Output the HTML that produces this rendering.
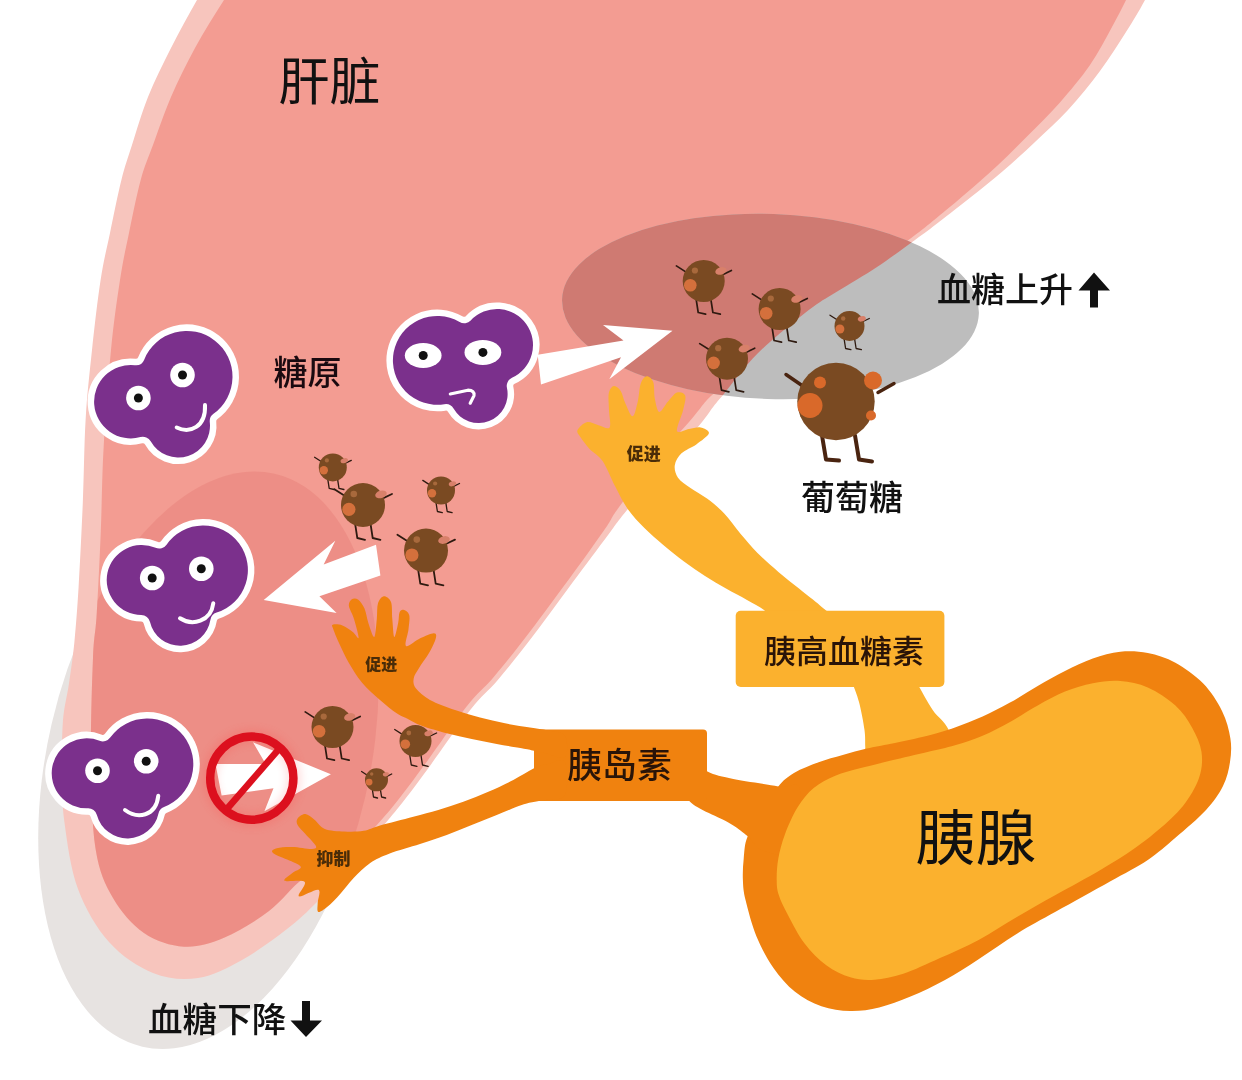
<!DOCTYPE html>
<html lang="zh-CN"><head><meta charset="utf-8"><title>肝脏 胰腺 血糖调节</title>
<style>
html,body{margin:0;padding:0;background:#fff;}
body{width:1242px;height:1080px;overflow:hidden;font-family:"Liberation Sans","Noto Sans CJK SC",sans-serif;}
svg{display:block;will-change:transform;}
svg text{font-family:"Liberation Sans","Noto Sans CJK SC",sans-serif;}
</style></head><body>
<svg width="1242" height="1080" viewBox="0 0 1242 1080">
<defs><clipPath id="lc"><path d="M222.0,-40.0C217.8,-33.3 205.5,-14.7 197.0,0.0C188.5,14.7 179.2,31.8 171.0,48.0C162.8,64.2 154.5,80.8 148.0,97.0C141.5,113.2 136.4,131.2 132.0,145.0C127.6,158.8 125.1,165.3 121.4,180.0C117.7,194.7 113.5,216.3 110.0,233.0C106.5,249.7 103.6,260.5 100.6,280.0C97.6,299.5 94.5,326.7 92.0,350.0C89.5,373.3 87.1,394.5 85.6,420.0C84.1,445.5 84.0,475.2 82.8,503.0C81.6,530.8 80.0,563.8 78.6,587.0C77.2,610.2 76.0,625.8 74.4,642.0C72.8,658.2 70.8,671.0 68.9,684.0C67.0,697.0 64.2,705.7 63.0,720.0C61.9,734.3 61.8,753.0 62.0,770.0C62.2,787.0 61.7,802.2 64.4,822.0C67.1,841.8 70.6,869.0 78.0,889.0C85.4,909.0 96.5,928.0 109.0,942.0C121.5,956.0 138.2,967.0 153.0,973.0C167.8,979.0 183.2,980.2 198.0,978.0C212.8,975.8 227.2,968.2 242.0,960.0C256.8,951.8 274.5,938.7 287.0,929.0C299.5,919.3 306.5,912.7 317.0,902.0C327.5,891.3 338.8,877.9 350.0,865.0C361.2,852.1 375.3,835.2 384.4,824.4C393.5,813.6 396.6,810.0 404.4,800.0C412.2,790.0 419.9,779.6 431.0,764.4C442.1,749.2 459.9,723.1 471.0,709.0C482.1,694.9 487.4,692.2 497.8,680.0C508.2,667.8 520.0,653.0 533.3,635.6C546.6,618.2 564.8,593.0 577.8,575.6C590.8,558.2 603.2,541.4 611.0,531.0C618.8,520.6 615.9,523.8 624.4,513.3C632.9,502.8 649.4,482.8 662.0,468.0C674.6,453.2 691.5,434.6 700.0,424.4C708.5,414.2 709.2,411.9 713.3,406.7C717.4,401.5 719.9,398.9 724.4,393.3C728.9,387.7 734.4,380.0 740.0,373.3C745.6,366.6 751.1,360.0 757.8,353.3C764.5,346.6 770.8,341.1 780.0,333.3C789.2,325.5 803.6,313.8 813.3,306.7C823.0,299.6 827.4,297.6 838.0,291.0C848.6,284.4 864.2,275.5 877.0,267.0C889.8,258.5 904.7,247.5 915.0,240.0C925.3,232.5 929.7,229.2 939.0,222.0C948.3,214.8 960.3,205.5 971.0,197.0C981.7,188.5 992.3,180.2 1003.0,171.0C1013.7,161.8 1024.2,152.2 1035.0,142.0C1045.8,131.8 1057.2,121.8 1068.0,110.0C1078.8,98.2 1090.3,84.0 1100.0,71.0C1109.7,58.0 1118.5,43.8 1126.0,32.0C1133.5,20.2 1138.5,12.0 1145.0,0.0C1151.5,-12.0 1161.7,-33.3 1165.0,-40.0Z"/></clipPath><clipPath id="lci"><path d="M252.0,-40.0C247.3,-33.3 233.5,-14.7 224.0,0.0C214.5,14.7 203.8,31.8 195.0,48.0C186.2,64.2 178.0,80.8 171.0,97.0C164.0,113.2 158.1,131.2 153.0,145.0C147.9,158.8 144.7,165.3 140.7,180.0C136.7,194.7 132.4,216.3 129.0,233.0C125.5,249.7 123.0,260.5 120.0,280.0C117.0,299.5 113.7,322.0 111.0,350.0C108.3,378.0 105.3,417.8 103.6,448.0C101.9,478.2 101.9,503.3 100.8,531.0C99.7,558.7 98.0,592.8 96.7,614.0C95.4,635.2 94.0,633.7 93.0,658.0C92.0,682.3 90.6,728.2 91.0,760.0C91.4,791.8 91.9,826.0 95.6,849.0C99.3,872.0 104.9,884.0 113.0,898.0C121.1,912.0 132.2,924.9 144.0,933.0C155.8,941.1 170.7,945.9 184.0,946.7C197.3,947.5 209.8,943.8 224.0,937.8C238.2,931.8 255.7,921.0 269.0,911.0C282.3,901.0 291.7,886.5 304.0,878.0C316.3,869.5 330.3,869.4 343.0,860.0C355.7,850.6 370.4,831.9 380.0,821.4C389.6,810.9 392.6,807.0 400.4,797.0C408.2,787.0 415.9,776.6 427.0,761.4C438.1,746.2 455.9,720.1 467.0,706.0C478.1,691.9 483.4,689.2 493.8,677.0C504.2,664.8 516.0,650.0 529.3,632.6C542.6,615.2 561.0,590.1 573.8,572.6C586.6,555.1 598.6,538.2 606.0,527.5C613.4,516.8 610.0,519.4 618.0,508.5C626.0,497.6 641.7,477.0 654.0,462.0C666.3,447.0 683.3,428.6 692.0,418.4C700.7,408.2 701.8,405.7 706.3,400.7C710.8,395.7 714.0,393.6 719.0,388.5C724.0,383.4 730.0,376.1 736.0,369.8C742.0,363.5 748.0,357.0 755.0,350.5C762.0,344.0 768.6,338.7 778.0,331.0C787.4,323.3 801.8,311.4 811.5,304.3C821.2,297.2 825.4,295.1 836.0,288.5C846.6,281.9 862.2,273.1 875.0,264.5C887.8,255.9 902.3,244.7 912.5,237.0C922.7,229.3 926.9,225.9 936.0,218.5C945.1,211.1 956.8,201.3 967.0,192.5C977.2,183.7 987.3,175.0 997.5,165.5C1007.7,156.0 1017.7,145.9 1028.0,135.5C1038.3,125.1 1049.2,114.8 1059.5,103.0C1069.8,91.2 1081.2,77.7 1090.0,65.0C1098.8,52.3 1105.7,38.5 1112.0,27.0C1118.3,15.5 1122.5,7.2 1128.0,-4.0C1133.5,-15.2 1142.2,-34.0 1145.0,-40.0Z"/></clipPath><filter id="gl" x="-30%" y="-30%" width="160%" height="160%"><feGaussianBlur stdDeviation="4"/></filter></defs>
<ellipse cx="208.5" cy="760" rx="161" ry="294" transform="rotate(13 207.5 760)" fill="#e7e3e1"/>
<path d="M222.0,-40.0C217.8,-33.3 205.5,-14.7 197.0,0.0C188.5,14.7 179.2,31.8 171.0,48.0C162.8,64.2 154.5,80.8 148.0,97.0C141.5,113.2 136.4,131.2 132.0,145.0C127.6,158.8 125.1,165.3 121.4,180.0C117.7,194.7 113.5,216.3 110.0,233.0C106.5,249.7 103.6,260.5 100.6,280.0C97.6,299.5 94.5,326.7 92.0,350.0C89.5,373.3 87.1,394.5 85.6,420.0C84.1,445.5 84.0,475.2 82.8,503.0C81.6,530.8 80.0,563.8 78.6,587.0C77.2,610.2 76.0,625.8 74.4,642.0C72.8,658.2 70.8,671.0 68.9,684.0C67.0,697.0 64.2,705.7 63.0,720.0C61.9,734.3 61.8,753.0 62.0,770.0C62.2,787.0 61.7,802.2 64.4,822.0C67.1,841.8 70.6,869.0 78.0,889.0C85.4,909.0 96.5,928.0 109.0,942.0C121.5,956.0 138.2,967.0 153.0,973.0C167.8,979.0 183.2,980.2 198.0,978.0C212.8,975.8 227.2,968.2 242.0,960.0C256.8,951.8 274.5,938.7 287.0,929.0C299.5,919.3 306.5,912.7 317.0,902.0C327.5,891.3 338.8,877.9 350.0,865.0C361.2,852.1 375.3,835.2 384.4,824.4C393.5,813.6 396.6,810.0 404.4,800.0C412.2,790.0 419.9,779.6 431.0,764.4C442.1,749.2 459.9,723.1 471.0,709.0C482.1,694.9 487.4,692.2 497.8,680.0C508.2,667.8 520.0,653.0 533.3,635.6C546.6,618.2 564.8,593.0 577.8,575.6C590.8,558.2 603.2,541.4 611.0,531.0C618.8,520.6 615.9,523.8 624.4,513.3C632.9,502.8 649.4,482.8 662.0,468.0C674.6,453.2 691.5,434.6 700.0,424.4C708.5,414.2 709.2,411.9 713.3,406.7C717.4,401.5 719.9,398.9 724.4,393.3C728.9,387.7 734.4,380.0 740.0,373.3C745.6,366.6 751.1,360.0 757.8,353.3C764.5,346.6 770.8,341.1 780.0,333.3C789.2,325.5 803.6,313.8 813.3,306.7C823.0,299.6 827.4,297.6 838.0,291.0C848.6,284.4 864.2,275.5 877.0,267.0C889.8,258.5 904.7,247.5 915.0,240.0C925.3,232.5 929.7,229.2 939.0,222.0C948.3,214.8 960.3,205.5 971.0,197.0C981.7,188.5 992.3,180.2 1003.0,171.0C1013.7,161.8 1024.2,152.2 1035.0,142.0C1045.8,131.8 1057.2,121.8 1068.0,110.0C1078.8,98.2 1090.3,84.0 1100.0,71.0C1109.7,58.0 1118.5,43.8 1126.0,32.0C1133.5,20.2 1138.5,12.0 1145.0,0.0C1151.5,-12.0 1161.7,-33.3 1165.0,-40.0Z" fill="#f7c5bd"/>
<path d="M252.0,-40.0C247.3,-33.3 233.5,-14.7 224.0,0.0C214.5,14.7 203.8,31.8 195.0,48.0C186.2,64.2 178.0,80.8 171.0,97.0C164.0,113.2 158.1,131.2 153.0,145.0C147.9,158.8 144.7,165.3 140.7,180.0C136.7,194.7 132.4,216.3 129.0,233.0C125.5,249.7 123.0,260.5 120.0,280.0C117.0,299.5 113.7,322.0 111.0,350.0C108.3,378.0 105.3,417.8 103.6,448.0C101.9,478.2 101.9,503.3 100.8,531.0C99.7,558.7 98.0,592.8 96.7,614.0C95.4,635.2 94.0,633.7 93.0,658.0C92.0,682.3 90.6,728.2 91.0,760.0C91.4,791.8 91.9,826.0 95.6,849.0C99.3,872.0 104.9,884.0 113.0,898.0C121.1,912.0 132.2,924.9 144.0,933.0C155.8,941.1 170.7,945.9 184.0,946.7C197.3,947.5 209.8,943.8 224.0,937.8C238.2,931.8 255.7,921.0 269.0,911.0C282.3,901.0 291.7,886.5 304.0,878.0C316.3,869.5 330.3,869.4 343.0,860.0C355.7,850.6 370.4,831.9 380.0,821.4C389.6,810.9 392.6,807.0 400.4,797.0C408.2,787.0 415.9,776.6 427.0,761.4C438.1,746.2 455.9,720.1 467.0,706.0C478.1,691.9 483.4,689.2 493.8,677.0C504.2,664.8 516.0,650.0 529.3,632.6C542.6,615.2 561.0,590.1 573.8,572.6C586.6,555.1 598.6,538.2 606.0,527.5C613.4,516.8 610.0,519.4 618.0,508.5C626.0,497.6 641.7,477.0 654.0,462.0C666.3,447.0 683.3,428.6 692.0,418.4C700.7,408.2 701.8,405.7 706.3,400.7C710.8,395.7 714.0,393.6 719.0,388.5C724.0,383.4 730.0,376.1 736.0,369.8C742.0,363.5 748.0,357.0 755.0,350.5C762.0,344.0 768.6,338.7 778.0,331.0C787.4,323.3 801.8,311.4 811.5,304.3C821.2,297.2 825.4,295.1 836.0,288.5C846.6,281.9 862.2,273.1 875.0,264.5C887.8,255.9 902.3,244.7 912.5,237.0C922.7,229.3 926.9,225.9 936.0,218.5C945.1,211.1 956.8,201.3 967.0,192.5C977.2,183.7 987.3,175.0 997.5,165.5C1007.7,156.0 1017.7,145.9 1028.0,135.5C1038.3,125.1 1049.2,114.8 1059.5,103.0C1069.8,91.2 1081.2,77.7 1090.0,65.0C1098.8,52.3 1105.7,38.5 1112.0,27.0C1118.3,15.5 1122.5,7.2 1128.0,-4.0C1133.5,-15.2 1142.2,-34.0 1145.0,-40.0Z" fill="#f39c92"/>
<g clip-path="url(#lci)"><ellipse cx="208.5" cy="760" rx="161" ry="294" transform="rotate(13 207.5 760)" fill="#d9605a" opacity=".22"/></g>
<ellipse cx="770.5" cy="306.5" rx="208.5" ry="92.5" transform="rotate(2 770 306)" fill="#bdbdbd"/>
<g clip-path="url(#lc)"><ellipse cx="770.5" cy="306.5" rx="208.5" ry="92.5" transform="rotate(2 770 306)" fill="#cf7a72"/></g>
<g><path d="M144.20,359.63A45.80,45.80 0 1 1 213.47,413.86A9.00,9.00 0 0 0 209.79,422.19A31.70,31.70 0 0 1 150.68,441.37A9.00,9.00 0 0 0 140.47,437.10A36.70,36.70 0 1 1 134.85,365.22A9.00,9.00 0 0 0 144.20,359.63Z" fill="#7b308c" stroke="#fff" stroke-width="13.0" stroke-linejoin="round" paint-order="stroke"/><ellipse cx="182.5" cy="375.0" rx="12.3" ry="12.3" fill="#fff"/><circle cx="182.5" cy="375.0" r="4.5" fill="#111"/><ellipse cx="138.4" cy="398.0" rx="12.3" ry="12.3" fill="#fff"/><circle cx="138.4" cy="398.0" r="4.5" fill="#111"/><path d="M176.7,427.5 C190,434 206,427 205,405" fill="none" stroke="#fff" stroke-width="4.0" stroke-linecap="round" stroke-linejoin="round"/></g>
<g><path d="M444.34,404.24A44.40,44.40 0 1 1 459.63,322.02A9.00,9.00 0 0 0 470.72,320.39A36.00,36.00 0 1 1 511.98,377.73A9.00,9.00 0 0 0 506.94,387.83A29.00,29.00 0 0 1 453.54,408.60A9.00,9.00 0 0 0 444.34,404.24Z" fill="#7b308c" stroke="#fff" stroke-width="13.0" stroke-linejoin="round" paint-order="stroke"/><ellipse cx="423.2" cy="355.5" rx="18.4" ry="12.5" fill="#fff"/><circle cx="423.2" cy="355.5" r="4.5" fill="#111"/><ellipse cx="482.9" cy="352.4" rx="18.4" ry="12.5" fill="#fff"/><circle cx="482.9" cy="352.4" r="4.5" fill="#111"/><path d="M450.3,394 L467.9,390.2 Q475,390.5 474,395.6 L470.2,403.2" fill="none" stroke="#fff" stroke-width="3.2" stroke-linecap="round" stroke-linejoin="round"/></g>
<path d="M537.7,354.7 L623.5,340.5 L603,325 L672.5,330.8 L609.3,379.2 L621,357.3 L541,384.4Z" fill="#fff"/>
<path d="M376,544.7 L323.7,564.5 L335.3,540.8 L263.7,600 L336.6,613 L319.4,596.2 L380.4,575.6Z" fill="#fff"/>
<g><path d="M141.33,615.00A35.00,35.00 0 1 1 155.58,547.87A9.00,9.00 0 0 0 166.56,544.71A44.60,44.60 0 1 1 216.63,612.56A9.00,9.00 0 0 0 210.43,619.76A30.80,30.80 0 0 1 150.00,621.96A9.00,9.00 0 0 0 141.33,615.00Z" fill="#7b308c" stroke="#fff" stroke-width="13.0" stroke-linejoin="round" paint-order="stroke"/><ellipse cx="201.3" cy="568.7" rx="12.3" ry="12.3" fill="#fff"/><circle cx="201.3" cy="568.7" r="4.5" fill="#111"/><ellipse cx="152.2" cy="578.0" rx="12.3" ry="12.3" fill="#fff"/><circle cx="152.2" cy="578.0" r="4.5" fill="#111"/><path d="M180,618.3 C192,626 211,622 213.3,603.3" fill="none" stroke="#fff" stroke-width="4.0" stroke-linecap="round" stroke-linejoin="round"/></g>
<g><path d="M87.89,808.28A35.00,35.00 0 1 1 99.57,740.75A9.00,9.00 0 0 0 110.21,737.61A45.80,45.80 0 1 1 164.03,806.91A9.00,9.00 0 0 0 158.48,813.40A31.70,31.70 0 0 1 96.89,814.94A9.00,9.00 0 0 0 87.89,808.28Z" fill="#7b308c" stroke="#fff" stroke-width="13.0" stroke-linejoin="round" paint-order="stroke"/><ellipse cx="146.2" cy="761.2" rx="12.3" ry="12.3" fill="#fff"/><circle cx="146.2" cy="761.2" r="4.5" fill="#111"/><ellipse cx="97.5" cy="770.8" rx="12.3" ry="12.3" fill="#fff"/><circle cx="97.5" cy="770.8" r="4.5" fill="#111"/><path d="M125,810 C137,819 156,817 158.3,795.8" fill="none" stroke="#fff" stroke-width="4.0" stroke-linecap="round" stroke-linejoin="round"/></g>
<g><path d="M696.1,298.9 L698.2,312.5 L705.6,314.2" fill="none" stroke="#2e1a10" stroke-width="1.7" stroke-linecap="round" stroke-linejoin="round"/><path d="M710.8,298.9 L712.9,312.5 L720.3,314.2" fill="none" stroke="#2e1a10" stroke-width="1.7" stroke-linecap="round" stroke-linejoin="round"/><path d="M686.9,272.6 L676.4,265.9" stroke="#2e1a10" stroke-width="1.7" stroke-linecap="round"/><path d="M722.6,274.7 L731.4,270.5" stroke="#2e1a10" stroke-width="1.7" stroke-linecap="round"/><circle cx="703.7" cy="281.0" r="21.0" fill="#7a4a22"/><circle cx="690.3" cy="285.2" r="6.3" fill="#d4703c"/><circle cx="694.9" cy="270.5" r="3.1" fill="#a8693c"/><ellipse cx="720.9" cy="270.9" rx="5.7" ry="3.6" fill="#d8806a" transform="rotate(-15 720.9 270.9)"/></g>
<g><path d="M772.0,326.9 L774.1,340.5 L781.5,342.2" fill="none" stroke="#2e1a10" stroke-width="1.7" stroke-linecap="round" stroke-linejoin="round"/><path d="M786.7,326.9 L788.8,340.5 L796.2,342.2" fill="none" stroke="#2e1a10" stroke-width="1.7" stroke-linecap="round" stroke-linejoin="round"/><path d="M762.8,300.6 L752.3,293.9" stroke="#2e1a10" stroke-width="1.7" stroke-linecap="round"/><path d="M798.5,302.7 L807.3,298.5" stroke="#2e1a10" stroke-width="1.7" stroke-linecap="round"/><circle cx="779.6" cy="309.0" r="21.0" fill="#7a4a22"/><circle cx="766.2" cy="313.2" r="6.3" fill="#d4703c"/><circle cx="770.8" cy="298.5" r="3.1" fill="#a8693c"/><ellipse cx="796.8" cy="298.9" rx="5.7" ry="3.6" fill="#d8806a" transform="rotate(-15 796.8 298.9)"/></g>
<g><path d="M844.1,338.8 L845.6,348.5 L850.9,349.7" fill="none" stroke="#2e1a10" stroke-width="1.3" stroke-linecap="round" stroke-linejoin="round"/><path d="M854.6,338.8 L856.1,348.5 L861.4,349.7" fill="none" stroke="#2e1a10" stroke-width="1.3" stroke-linecap="round" stroke-linejoin="round"/><path d="M837.5,320.0 L830.0,315.2" stroke="#2e1a10" stroke-width="1.3" stroke-linecap="round"/><path d="M863.0,321.5 L869.3,318.5" stroke="#2e1a10" stroke-width="1.3" stroke-linecap="round"/><circle cx="849.5" cy="326.0" r="15.0" fill="#7a4a22"/><circle cx="839.9" cy="329.0" r="4.5" fill="#d4703c"/><circle cx="843.2" cy="318.5" r="2.2" fill="#a8693c"/><ellipse cx="861.8" cy="318.8" rx="4.1" ry="2.6" fill="#d8806a" transform="rotate(-15 861.8 318.8)"/></g>
<g><path d="M719.4,376.6 L721.5,390.2 L728.9,391.9" fill="none" stroke="#2e1a10" stroke-width="1.7" stroke-linecap="round" stroke-linejoin="round"/><path d="M734.1,376.6 L736.2,390.2 L743.6,391.9" fill="none" stroke="#2e1a10" stroke-width="1.7" stroke-linecap="round" stroke-linejoin="round"/><path d="M710.2,350.3 L699.7,343.6" stroke="#2e1a10" stroke-width="1.7" stroke-linecap="round"/><path d="M745.9,352.4 L754.7,348.2" stroke="#2e1a10" stroke-width="1.7" stroke-linecap="round"/><circle cx="727.0" cy="358.7" r="21.0" fill="#7a4a22"/><circle cx="713.6" cy="362.9" r="6.3" fill="#d4703c"/><circle cx="718.2" cy="348.2" r="3.1" fill="#a8693c"/><ellipse cx="744.2" cy="348.6" rx="5.7" ry="3.6" fill="#d8806a" transform="rotate(-15 744.2 348.6)"/></g>
<g><path d="M327.8,479.3 L329.2,488.4 L334.1,489.5" fill="none" stroke="#2e1a10" stroke-width="1.3" stroke-linecap="round" stroke-linejoin="round"/><path d="M337.6,479.3 L339.0,488.4 L343.9,489.5" fill="none" stroke="#2e1a10" stroke-width="1.3" stroke-linecap="round" stroke-linejoin="round"/><path d="M321.6,461.8 L314.6,457.3" stroke="#2e1a10" stroke-width="1.3" stroke-linecap="round"/><path d="M345.4,463.2 L351.3,460.4" stroke="#2e1a10" stroke-width="1.3" stroke-linecap="round"/><circle cx="332.8" cy="467.4" r="14.0" fill="#7a4a22"/><circle cx="323.8" cy="470.2" r="4.2" fill="#d4703c"/><circle cx="326.9" cy="460.4" r="2.1" fill="#a8693c"/><ellipse cx="344.3" cy="460.7" rx="3.8" ry="2.4" fill="#d8806a" transform="rotate(-15 344.3 460.7)"/></g>
<g><path d="M355.1,523.7 L357.3,538.0 L365.0,539.8" fill="none" stroke="#2e1a10" stroke-width="1.8" stroke-linecap="round" stroke-linejoin="round"/><path d="M370.5,523.7 L372.7,538.0 L380.4,539.8" fill="none" stroke="#2e1a10" stroke-width="1.8" stroke-linecap="round" stroke-linejoin="round"/><path d="M345.4,496.2 L334.4,489.2" stroke="#2e1a10" stroke-width="1.8" stroke-linecap="round"/><path d="M382.8,498.4 L392.0,494.0" stroke="#2e1a10" stroke-width="1.8" stroke-linecap="round"/><circle cx="363.0" cy="505.0" r="22.0" fill="#7a4a22"/><circle cx="348.9" cy="509.4" r="6.6" fill="#d4703c"/><circle cx="353.8" cy="494.0" r="3.3" fill="#a8693c"/><ellipse cx="381.0" cy="494.4" rx="5.9" ry="3.7" fill="#d8806a" transform="rotate(-15 381.0 494.4)"/></g>
<g><path d="M436.0,502.4 L437.4,511.5 L442.3,512.6" fill="none" stroke="#2e1a10" stroke-width="1.3" stroke-linecap="round" stroke-linejoin="round"/><path d="M445.8,502.4 L447.2,511.5 L452.1,512.6" fill="none" stroke="#2e1a10" stroke-width="1.3" stroke-linecap="round" stroke-linejoin="round"/><path d="M429.8,484.9 L422.8,480.4" stroke="#2e1a10" stroke-width="1.3" stroke-linecap="round"/><path d="M453.6,486.3 L459.5,483.5" stroke="#2e1a10" stroke-width="1.3" stroke-linecap="round"/><circle cx="441.0" cy="490.5" r="14.0" fill="#7a4a22"/><circle cx="432.0" cy="493.3" r="4.2" fill="#d4703c"/><circle cx="435.1" cy="483.5" r="2.1" fill="#a8693c"/><ellipse cx="452.5" cy="483.8" rx="3.8" ry="2.4" fill="#d8806a" transform="rotate(-15 452.5 483.8)"/></g>
<g><path d="M418.1,569.3 L420.3,583.6 L428.0,585.4" fill="none" stroke="#2e1a10" stroke-width="1.8" stroke-linecap="round" stroke-linejoin="round"/><path d="M433.5,569.3 L435.7,583.6 L443.4,585.4" fill="none" stroke="#2e1a10" stroke-width="1.8" stroke-linecap="round" stroke-linejoin="round"/><path d="M408.4,541.8 L397.4,534.8" stroke="#2e1a10" stroke-width="1.8" stroke-linecap="round"/><path d="M445.8,544.0 L455.0,539.6" stroke="#2e1a10" stroke-width="1.8" stroke-linecap="round"/><circle cx="426.0" cy="550.6" r="22.0" fill="#7a4a22"/><circle cx="411.9" cy="555.0" r="6.6" fill="#d4703c"/><circle cx="416.8" cy="539.6" r="3.3" fill="#a8693c"/><ellipse cx="444.0" cy="540.0" rx="5.9" ry="3.7" fill="#d8806a" transform="rotate(-15 444.0 540.0)"/></g>
<g><path d="M324.9,744.9 L327.0,758.5 L334.4,760.2" fill="none" stroke="#2e1a10" stroke-width="1.7" stroke-linecap="round" stroke-linejoin="round"/><path d="M339.6,744.9 L341.7,758.5 L349.1,760.2" fill="none" stroke="#2e1a10" stroke-width="1.7" stroke-linecap="round" stroke-linejoin="round"/><path d="M315.7,718.6 L305.2,711.9" stroke="#2e1a10" stroke-width="1.7" stroke-linecap="round"/><path d="M351.4,720.7 L360.2,716.5" stroke="#2e1a10" stroke-width="1.7" stroke-linecap="round"/><circle cx="332.5" cy="727.0" r="21.0" fill="#7a4a22"/><circle cx="319.1" cy="731.2" r="6.3" fill="#d4703c"/><circle cx="323.7" cy="716.5" r="3.1" fill="#a8693c"/><ellipse cx="349.7" cy="716.9" rx="5.7" ry="3.6" fill="#d8806a" transform="rotate(-15 349.7 716.9)"/></g>
<g><path d="M409.7,754.6 L411.3,765.0 L416.9,766.3" fill="none" stroke="#2e1a10" stroke-width="1.3" stroke-linecap="round" stroke-linejoin="round"/><path d="M420.9,754.6 L422.5,765.0 L428.1,766.3" fill="none" stroke="#2e1a10" stroke-width="1.3" stroke-linecap="round" stroke-linejoin="round"/><path d="M402.7,734.6 L394.7,729.5" stroke="#2e1a10" stroke-width="1.3" stroke-linecap="round"/><path d="M429.9,736.2 L436.6,733.0" stroke="#2e1a10" stroke-width="1.3" stroke-linecap="round"/><circle cx="415.5" cy="741.0" r="16.0" fill="#7a4a22"/><circle cx="405.3" cy="744.2" r="4.8" fill="#d4703c"/><circle cx="408.8" cy="733.0" r="2.4" fill="#a8693c"/><ellipse cx="428.6" cy="733.3" rx="4.3" ry="2.7" fill="#d8806a" transform="rotate(-15 428.6 733.3)"/></g>
<g><path d="M372.4,789.6 L373.5,797.0 L377.5,798.0" fill="none" stroke="#2e1a10" stroke-width="1.3" stroke-linecap="round" stroke-linejoin="round"/><path d="M380.4,789.6 L381.6,797.0 L385.6,798.0" fill="none" stroke="#2e1a10" stroke-width="1.3" stroke-linecap="round" stroke-linejoin="round"/><path d="M367.3,775.2 L361.6,771.5" stroke="#2e1a10" stroke-width="1.3" stroke-linecap="round"/><path d="M386.9,776.3 L391.7,774.0" stroke="#2e1a10" stroke-width="1.3" stroke-linecap="round"/><circle cx="376.5" cy="779.8" r="11.5" fill="#7a4a22"/><circle cx="369.1" cy="782.1" r="3.4" fill="#d4703c"/><circle cx="371.7" cy="774.0" r="1.7" fill="#a8693c"/><ellipse cx="385.9" cy="774.3" rx="3.1" ry="2.0" fill="#d8806a" transform="rotate(-15 385.9 774.3)"/></g>
<g><path d="M822.0,435.5 L826.0,459.5 L839.0,460.5" fill="none" stroke="#4a2410" stroke-width="4" stroke-linecap="round" stroke-linejoin="round"/><path d="M855.0,435.5 L859.0,459.5 L872.0,461.5" fill="none" stroke="#4a2410" stroke-width="4" stroke-linecap="round" stroke-linejoin="round"/><path d="M802.0,385.5 L786.0,374.5" stroke="#4a2410" stroke-width="3.5" stroke-linecap="round"/><path d="M878.0,392.5 L894.0,383.5" stroke="#4a2410" stroke-width="3.5" stroke-linecap="round"/><circle cx="836.0" cy="401.5" r="38.7" fill="#7a4a22"/><circle cx="810.0" cy="405.5" r="12.5" fill="#d9692a"/><circle cx="873.0" cy="380.5" r="9" fill="#d9692a"/><circle cx="820.0" cy="382.5" r="6" fill="#d9692a"/><circle cx="871.0" cy="415.5" r="5" fill="#d9692a"/></g>
<path d="M852.8,684.0C853.8,687.0 857.0,694.3 859.0,702.0C861.0,709.7 863.5,722.4 864.5,730.0C865.5,737.6 865.0,740.2 865.3,747.7C865.5,755.2 849.4,770.5 866.0,775.0C882.6,779.5 951.2,782.4 965.0,775.0C978.8,767.6 954.4,741.2 949.0,730.4C943.6,719.6 937.9,717.7 932.7,710.0C927.5,702.3 920.1,688.3 917.6,684.0Z" fill="#fbb12e"/>
<path d="M778.3,786.4C783.4,779.9 787.7,776.7 794.4,772.7C801.1,768.7 810.5,765.2 818.6,762.2C826.7,759.2 834.7,757.3 842.7,755.0C850.8,752.7 858.9,750.4 866.9,748.5C874.9,746.6 880.9,745.8 891.0,743.7C901.1,741.6 916.8,738.4 927.5,735.7C938.2,733.0 945.8,730.6 955.0,727.4C964.2,724.2 973.4,720.5 982.6,716.4C991.8,712.3 1000.8,707.7 1010.0,702.6C1019.2,697.5 1028.5,691.3 1037.7,686.0C1046.9,680.7 1055.8,675.6 1065.0,671.0C1074.2,666.4 1083.6,661.8 1092.8,658.6C1102.0,655.4 1111.1,652.6 1120.3,651.7C1129.5,650.8 1138.6,651.2 1147.8,653.0C1157.0,654.8 1166.2,657.7 1175.4,662.7C1184.6,667.8 1195.2,675.3 1203.0,683.3C1210.8,691.3 1217.4,701.7 1222.0,710.9C1226.6,720.1 1229.1,729.9 1230.4,738.4C1231.7,746.9 1231.2,754.1 1230.0,762.0C1228.8,769.9 1227.0,778.0 1223.0,786.0C1219.0,794.0 1213.9,801.4 1206.0,810.0C1198.1,818.6 1185.1,829.5 1175.4,837.8C1165.7,846.1 1158.7,852.6 1147.8,859.9C1136.9,867.2 1125.3,872.9 1110.0,881.5C1094.7,890.1 1071.5,902.9 1056.0,911.5C1040.5,920.1 1030.2,925.4 1017.3,933.4C1004.4,941.4 990.6,951.4 978.6,959.2C966.6,967.0 956.4,973.8 945.0,980.0C933.6,986.2 921.5,992.0 910.5,996.6C899.5,1001.2 889.2,1005.0 879.2,1007.4C869.2,1009.8 859.9,1011.2 850.3,1011.0C840.7,1010.8 830.6,1009.4 821.4,1006.2C812.2,1003.0 803.0,998.2 795.0,991.8C787.0,985.4 779.7,976.9 773.3,967.7C766.9,958.5 761.1,947.6 756.5,936.4C751.9,925.2 747.9,909.7 745.6,900.3C743.3,890.9 743.2,886.9 742.9,880.0C742.6,873.1 742.9,866.1 743.7,858.8C744.5,851.5 744.3,844.1 747.7,836.3C751.1,828.5 758.9,820.3 764.0,812.0C769.1,803.7 773.2,792.9 778.3,786.4Z" fill="#f0820f"/>
<path d="M700.0,760.0C701.1,761.8 701.5,768.0 706.5,771.0C711.5,774.0 718.0,775.7 730.0,778.3C742.0,780.9 766.6,784.4 778.3,786.4C790.0,788.4 798.0,779.4 800.0,790.0C802.0,800.6 796.3,840.0 790.0,850.0C783.7,860.0 769.0,852.3 762.0,850.0C755.0,847.7 753.0,840.7 747.7,836.3C742.4,831.9 739.6,829.1 730.0,823.4C720.4,817.6 696.7,809.0 690.0,801.8C683.3,794.6 690.0,783.6 690.0,780.0Z" fill="#f0820f"/>
<path d="M776.7,880.0C776.6,874.0 776.9,866.3 778.3,858.8C779.6,851.2 781.6,843.3 784.8,834.7C788.0,826.1 792.8,815.1 797.6,807.3C802.4,799.5 807.5,793.2 813.7,788.0C819.9,782.8 827.2,779.1 834.7,775.9C842.2,772.7 849.4,771.1 858.8,768.6C868.2,766.1 879.5,763.4 891.0,760.6C902.5,757.8 916.8,754.5 927.5,752.0C938.2,749.5 945.8,748.0 955.0,745.3C964.2,742.6 973.4,739.6 982.6,735.7C991.8,731.8 1000.8,727.0 1010.0,721.9C1019.2,716.8 1028.5,710.4 1037.7,705.4C1046.9,700.4 1055.8,695.3 1065.0,691.6C1074.2,687.9 1083.6,685.1 1092.8,683.3C1102.0,681.5 1111.1,680.3 1120.3,681.0C1129.5,681.7 1138.6,683.4 1147.8,687.5C1157.0,691.6 1168.0,698.8 1175.4,705.4C1182.8,712.0 1187.7,719.6 1192.0,727.4C1196.3,735.2 1200.3,743.6 1201.5,752.0C1202.7,760.4 1202.1,769.0 1199.0,778.0C1195.9,787.0 1189.7,797.4 1183.0,806.0C1176.3,814.6 1167.0,822.5 1158.8,829.6C1150.6,836.7 1143.8,842.0 1134.0,848.8C1124.2,855.6 1113.0,862.6 1100.0,870.3C1087.0,878.0 1069.8,887.1 1056.0,894.8C1042.2,902.5 1030.2,909.2 1017.3,916.7C1004.4,924.2 991.5,933.0 978.6,939.9C965.7,946.8 952.5,952.4 940.0,958.0C927.5,963.6 914.2,970.1 903.3,973.7C892.4,977.3 883.2,979.1 874.4,979.7C865.6,980.3 858.3,979.7 850.3,977.3C842.3,974.9 833.9,970.9 826.3,965.3C818.7,959.7 811.0,952.0 804.6,943.6C798.2,935.2 792.1,922.9 787.8,914.8C783.5,906.7 780.6,900.8 778.8,895.0C776.9,889.2 776.8,886.0 776.7,880.0Z" fill="#fbb12e"/>
<rect x="534" y="729.5" width="173" height="71.5" rx="4" fill="#f0820f"/>
<path d="M332.7,624.7C334.2,624.1 339.0,624.2 342.4,625.4C345.8,626.6 350.1,629.8 352.8,631.9C355.5,634.0 358.4,639.9 358.6,637.7C358.8,635.5 355.6,624.2 354.0,618.9C352.4,613.6 349.3,609.2 348.9,606.0C348.5,602.8 350.0,600.5 351.5,599.4C353.0,598.3 355.8,597.9 358.0,599.4C360.2,600.9 362.8,604.6 364.5,608.5C366.2,612.4 366.7,618.0 368.3,622.8C369.9,627.5 372.8,637.6 374.2,637.0C375.6,636.4 376.2,624.5 376.8,618.9C377.4,613.3 376.8,607.1 378.0,603.3C379.2,599.5 381.7,596.4 383.9,596.2C386.1,596.0 389.6,598.2 391.0,602.0C392.4,605.8 391.8,613.1 392.3,618.9C392.9,624.7 393.3,636.4 394.3,637.0C395.3,637.6 397.3,626.9 398.2,622.8C399.1,618.7 398.6,614.6 399.5,612.4C400.4,610.2 401.8,609.4 403.4,609.8C405.0,610.2 408.3,611.8 409.2,615.0C410.1,618.2 409.0,624.1 408.5,629.3C408.0,634.5 404.1,644.5 406.0,646.0C407.9,647.5 415.6,640.4 420.2,638.3C424.8,636.2 431.2,633.2 433.8,633.2C436.4,633.2 436.6,635.1 435.8,638.3C435.1,641.5 432.1,647.6 429.3,652.6C426.5,657.6 421.5,663.9 418.9,668.2C416.3,672.5 414.2,675.1 413.7,678.5C413.2,681.9 413.1,684.7 415.8,688.3C418.5,691.9 423.5,696.4 430.0,700.0C436.5,703.6 446.7,707.1 455.0,710.0C463.3,712.9 471.7,715.3 480.0,717.5C488.3,719.7 496.7,721.6 505.0,723.3C513.3,725.0 522.8,726.3 530.0,727.5C537.2,728.7 542.2,729.1 548.0,730.5C553.8,731.9 562.2,731.6 565.0,736.0C567.8,740.4 568.2,754.1 565.0,757.0C561.8,759.9 551.2,754.5 546.0,753.5C540.8,752.5 538.0,751.7 534.0,750.8C530.0,749.9 527.9,749.4 521.7,748.3C515.5,747.2 505.0,745.5 496.7,744.0C488.4,742.5 480.0,740.8 471.7,739.0C463.4,737.2 455.0,735.5 446.7,733.3C438.4,731.1 428.3,728.3 421.7,725.8C415.1,723.3 411.2,720.6 407.0,718.5C402.8,716.4 401.2,716.4 396.7,713.3C392.2,710.2 385.8,705.1 380.0,700.0C374.2,694.9 367.1,688.6 361.9,682.4C356.7,676.2 352.6,669.3 348.9,663.0C345.2,656.7 342.4,650.4 339.8,644.8C337.2,639.2 334.5,632.6 333.3,629.3C332.1,625.9 331.2,625.4 332.7,624.7Z" fill="#f0820f"/>
<path d="M297.6,818.5C298.9,816.7 302.6,813.8 305.4,814.0C308.2,814.2 311.3,817.3 314.5,819.8C317.7,822.3 319.8,826.9 324.8,828.9C329.8,830.9 337.8,831.2 344.3,831.5C350.8,831.8 357.8,831.8 363.7,830.8C369.6,829.8 371.7,827.9 380.0,825.5C388.3,823.1 403.6,819.3 413.3,816.7C423.0,814.1 430.0,812.5 438.3,810.0C446.6,807.5 455.0,804.8 463.3,801.7C471.6,798.7 480.0,795.3 488.3,791.7C496.6,788.1 505.7,783.9 513.3,780.0C520.9,776.1 528.2,771.0 534.0,768.3C539.8,765.6 542.8,765.0 548.0,764.0C553.2,763.0 562.2,756.8 565.0,762.0C567.8,767.2 568.2,788.7 565.0,795.0C561.8,801.3 551.0,798.9 546.0,800.0C541.0,801.1 539.0,800.9 535.0,801.7C531.0,802.5 528.1,802.8 521.7,805.0C515.3,807.2 505.0,811.7 496.7,815.0C488.4,818.3 480.0,821.7 471.7,825.0C463.4,828.3 455.3,831.8 446.7,835.0C438.1,838.2 429.5,840.9 420.0,844.0C410.5,847.1 398.0,850.3 389.7,853.5C381.4,856.7 376.2,858.9 370.2,863.0C364.1,867.1 358.4,873.1 353.4,878.2C348.4,883.3 344.7,889.0 340.4,893.7C336.1,898.5 331.1,903.7 327.4,906.7C323.7,909.7 319.9,912.5 318.3,911.9C316.7,911.2 317.7,906.5 317.7,902.8C317.7,899.1 321.4,890.9 318.3,889.8C315.2,888.7 301.2,897.6 298.9,896.3C296.6,895.0 307.1,884.6 304.7,882.0C302.3,879.4 286.7,882.3 284.6,880.8C282.6,879.3 289.8,875.5 292.4,873.0C295.0,870.5 303.3,869.1 300.2,865.9C297.1,862.6 277.5,856.4 273.6,853.5C269.7,850.6 273.8,849.4 276.9,848.3C280.0,847.2 286.6,846.9 292.4,847.0C298.2,847.1 308.0,849.2 311.9,849.0C315.8,848.8 316.9,848.3 315.8,845.8C314.7,843.3 308.4,837.5 305.4,834.0C302.4,830.5 298.9,827.6 297.6,825.0C296.3,822.4 296.3,820.3 297.6,818.5Z" fill="#f0820f"/>
<path d="M577.8,429.6C579.0,427.4 583.2,422.9 586.7,422.2C590.2,421.5 594.7,424.3 598.5,425.2C602.3,426.1 607.9,430.1 609.6,427.4C611.3,424.7 609.0,414.7 608.9,408.9C608.8,403.1 608.0,396.4 608.9,392.6C609.8,388.8 612.0,386.3 614.0,386.0C616.0,385.7 618.8,388.2 620.7,391.0C622.6,393.8 623.2,398.8 625.2,403.0C627.2,407.2 630.5,416.6 632.6,416.3C634.7,416.1 636.4,406.9 637.8,401.5C639.1,396.1 639.2,387.9 640.7,383.7C642.2,379.5 644.6,376.6 646.7,376.3C648.8,376.1 651.9,378.5 653.3,382.2C654.6,385.9 653.8,393.6 654.8,398.5C655.8,403.4 657.1,411.4 659.3,411.9C661.5,412.4 665.0,404.7 668.0,401.5C671.0,398.3 674.1,393.6 677.0,392.6C679.9,391.6 684.2,392.6 685.2,395.6C686.2,398.6 684.4,404.5 683.0,410.4C681.6,416.3 676.0,427.9 677.0,431.0C678.0,434.1 684.9,429.5 688.9,428.9C692.9,428.3 697.4,426.7 700.7,427.4C704.0,428.1 709.6,430.5 708.9,433.3C708.2,436.1 700.9,441.1 696.3,444.4C691.7,447.7 685.1,449.8 681.5,453.3C677.9,456.8 675.4,461.1 674.8,465.2C674.2,469.3 675.4,473.9 678.0,477.7C680.6,481.5 685.7,484.5 690.5,488.0C695.3,491.5 701.4,494.4 707.0,498.6C712.6,502.8 718.4,507.4 724.0,513.3C729.6,519.2 735.1,527.4 740.7,534.0C746.3,540.6 751.2,546.7 757.5,553.0C763.8,559.3 771.5,566.1 778.4,572.0C785.3,577.9 792.1,583.0 799.0,588.6C805.9,594.2 815.0,601.2 820.0,605.4C825.0,609.6 827.5,610.7 829.0,614.0C830.5,617.3 839.5,623.2 829.0,625.0C818.5,626.8 776.5,627.2 766.0,625.0C755.5,622.8 769.2,616.2 766.0,612.0C762.8,607.8 753.7,603.9 747.0,600.0C740.3,596.1 733.0,592.6 726.0,588.6C719.0,584.6 712.0,580.5 705.0,576.0C698.0,571.5 691.0,566.6 684.0,561.4C677.0,556.2 669.6,550.3 663.0,544.7C656.4,539.1 650.3,534.0 644.4,528.0C638.5,522.0 632.6,516.0 627.7,509.0C622.8,502.0 619.2,494.0 615.0,486.0C610.8,478.0 606.8,467.2 602.6,461.0C598.4,454.8 593.5,453.1 589.6,448.9C585.7,444.7 581.3,438.8 579.3,435.6C577.3,432.4 576.6,431.8 577.8,429.6Z" fill="#fbb12e"/>
<rect x="735.7" y="610.7" width="208.7" height="76.3" rx="5" fill="#fbb12e"/>
<path d="M215.5,764 L265.7,764 L253,742.3 L330.9,774.3 L264.4,811.2 L273.5,788.2 L221.6,795.5Z" fill="#fff"/>
<circle cx="251.8" cy="778.2" r="42" fill="none" stroke="#ff3030" stroke-width="14" opacity=".16" filter="url(#gl)"/>
<circle cx="251.8" cy="778.2" r="41.6" fill="none" stroke="#dc101e" stroke-width="8.5"/>
<line x1="279.5" y1="748.4" x2="226" y2="810" stroke="#dc101e" stroke-width="6.6"/>
<g opacity="0.999">
<text x="329.5" y="100.0" font-size="51.0" font-weight="400" fill="#111" text-anchor="middle" >肝脏</text>
<text x="307.5" y="385.0" font-size="34.0" font-weight="500" fill="#1a0a10" text-anchor="middle" >糖原</text>
<text x="852.0" y="510.0" font-size="34.0" font-weight="500" fill="#111" text-anchor="middle" >葡萄糖</text>
<text x="937.0" y="302.0" font-size="34.0" font-weight="500" fill="#111" text-anchor="start" >血糖上升</text>
<text x="148.0" y="1032.0" font-size="34.6" font-weight="500" fill="#111" text-anchor="start" >血糖下降</text>
<text x="844.0" y="662.5" font-size="32.0" font-weight="500" fill="#2a1408" text-anchor="middle" >胰高血糖素</text>
<text x="619.5" y="778.0" font-size="34.8" font-weight="500" fill="#2a1408" text-anchor="middle" >胰岛素</text>
<text x="975.7" y="859.5" font-size="60.3" font-weight="400" fill="#111" text-anchor="middle" >胰腺</text>
<text x="643.7" y="459.5" font-size="17.0" font-weight="900" fill="#4a2c08" text-anchor="middle" >促进</text>
<text x="381.3" y="669.5" font-size="16.0" font-weight="900" fill="#4a2c08" text-anchor="middle" >促进</text>
<text x="333.5" y="865.0" font-size="17.0" font-weight="900" fill="#4a2c08" text-anchor="middle" >抑制</text>
</g>
<path d="M1094,272.5 L1110,290.5 L1098,290.5 L1098,307.5 L1090,307.5 L1090,290.5 L1078.5,290.5Z" fill="#111"/>
<path d="M306,1037 L290.5,1020.5 L302,1020.5 L302,1001 L310,1001 L310,1020.5 L322,1020.5Z" fill="#111"/>
</svg>
</body></html>
